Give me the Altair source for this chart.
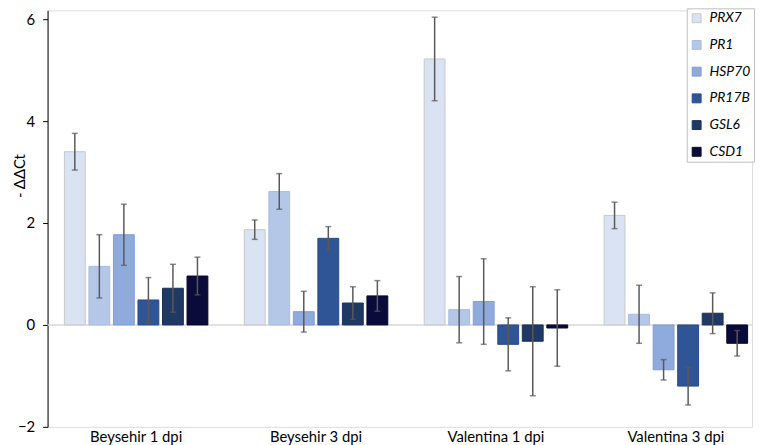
import altair as alt
import pandas as pd

groups = ["Beysehir 1 dpi", "Beysehir 3 dpi", "Valentina 1 dpi", "Valentina 3 dpi"]
genes = ["PRX7", "PR1", "HSP70", "PR17B", "GSL6", "CSD1"]

values = {
    "PRX7":  [3.40, 1.87, 5.22, 2.15],
    "PR1":   [1.15, 2.62, 0.30, 0.21],
    "HSP70": [1.77, 0.26, 0.46, -0.88],
    "PR17B": [0.49, 1.70, -0.38, -1.20],
    "GSL6":  [0.72, 0.43, -0.32, 0.23],
    "CSD1":  [0.96, 0.57, -0.06, -0.36],
}
errors = {
    "PRX7":  [0.36, 0.19, 0.82, 0.26],
    "PR1":   [0.62, 0.35, 0.65, 0.57],
    "HSP70": [0.60, 0.40, 0.84, 0.20],
    "PR17B": [0.44, 0.23, 0.52, 0.37],
    "GSL6":  [0.47, 0.32, 1.07, 0.40],
    "CSD1":  [0.37, 0.30, 0.75, 0.25],
}

fill_colors = ["#dae3f3", "#b4c7e7", "#8faadc", "#2f5597", "#203864", "#0b0b3b"]
stroke_colors = ["#c8c8c8", "#a7bde3", "#7f9dd6", "#264a87", "#18305a", "#060628"]

rows = []
for g in genes:
    for i, grp in enumerate(groups):
        v = values[g][i]
        e = errors[g][i]
        rows.append({"group": grp, "gene": g, "value": v, "lo": v - e, "hi": v + e})
df = pd.DataFrame(rows)

FONT = "Lato"

x_enc = alt.X(
    "group:N",
    sort=groups,
    scale=alt.Scale(range=[17, 707.5], paddingInner=0.2025, paddingOuter=0),
    axis=alt.Axis(
        title=None, labelAngle=0, domain=False, ticks=False,
        labelFontSize=15, labelColor="#000000", labelPadding=3, labelFont=FONT,
    ),
)
xoff = alt.XOffset("gene:N", sort=genes, scale=alt.Scale(paddingInner=0.15, paddingOuter=0))
y_scale = alt.Scale(domain=[-2, 6.175], nice=False, zero=False)

base = alt.Chart(df)

zero_line = alt.Chart(pd.DataFrame({"z": [0]})).mark_rule(color="#d9d9d9", strokeWidth=1.5).encode(
    y=alt.Y("z:Q", scale=y_scale)
)

bars = base.mark_bar(strokeWidth=1).encode(
    x=x_enc,
    xOffset=xoff,
    y=alt.Y(
        "value:Q",
        scale=y_scale,
        axis=alt.Axis(
            title="- ΔΔCt", values=[-2, 0, 2, 4, 6], grid=False,
            domainColor="#000000", tickColor="#000000", tickSize=5, labelPadding=8,
            labelFontSize=15, labelColor="#000000", labelFont=FONT,
            titleFontSize=15, titleFontWeight="normal", titleColor="#000000", titleFont=FONT,
            titleAngle=270, titleX=-28, titleY=167, titleAlign="center", titleBaseline="middle",
        ),
    ),
    color=alt.Color("gene:N", sort=genes, scale=alt.Scale(domain=genes, range=fill_colors), title=None),
    stroke=alt.Stroke("gene:N", sort=genes, scale=alt.Scale(domain=genes, range=stroke_colors), title=None),
)

err_rule = base.mark_rule(color="#595959", strokeWidth=1.5).encode(
    x=x_enc, xOffset=xoff, y=alt.Y("lo:Q", scale=y_scale), y2="hi:Q"
)
cap_lo = base.mark_tick(color="#595959", orient="horizontal", size=6, thickness=1.5).encode(
    x=x_enc, xOffset=xoff, y=alt.Y("lo:Q", scale=y_scale)
)
cap_hi = base.mark_tick(color="#595959", orient="horizontal", size=6, thickness=1.5).encode(
    x=x_enc, xOffset=xoff, y=alt.Y("hi:Q", scale=y_scale)
)

chart = alt.layer(zero_line, bars, err_rule, cap_lo, cap_hi).properties(
    width=712, height=421,
    autosize=alt.AutoSizeParams(type="none"),
    padding={"left": 40, "top": 0, "right": 5, "bottom": 16},
).configure_view(stroke=None).configure(font=FONT).configure_legend(
    orient="none", legendX=646, legendY=-2,
    strokeColor="#bfbfbf", fillColor="#ffffff", padding=3, rowPadding=13,
    symbolType="square", symbolSize=81, symbolStrokeWidth=1,
    labelFontSize=14, labelFontStyle="italic", labelFont=FONT, labelColor="#000000",
    labelOffset=6, cornerRadius=0,
)

chart.save("out.html", embed_options={"renderer": "svg", "actions": False})
